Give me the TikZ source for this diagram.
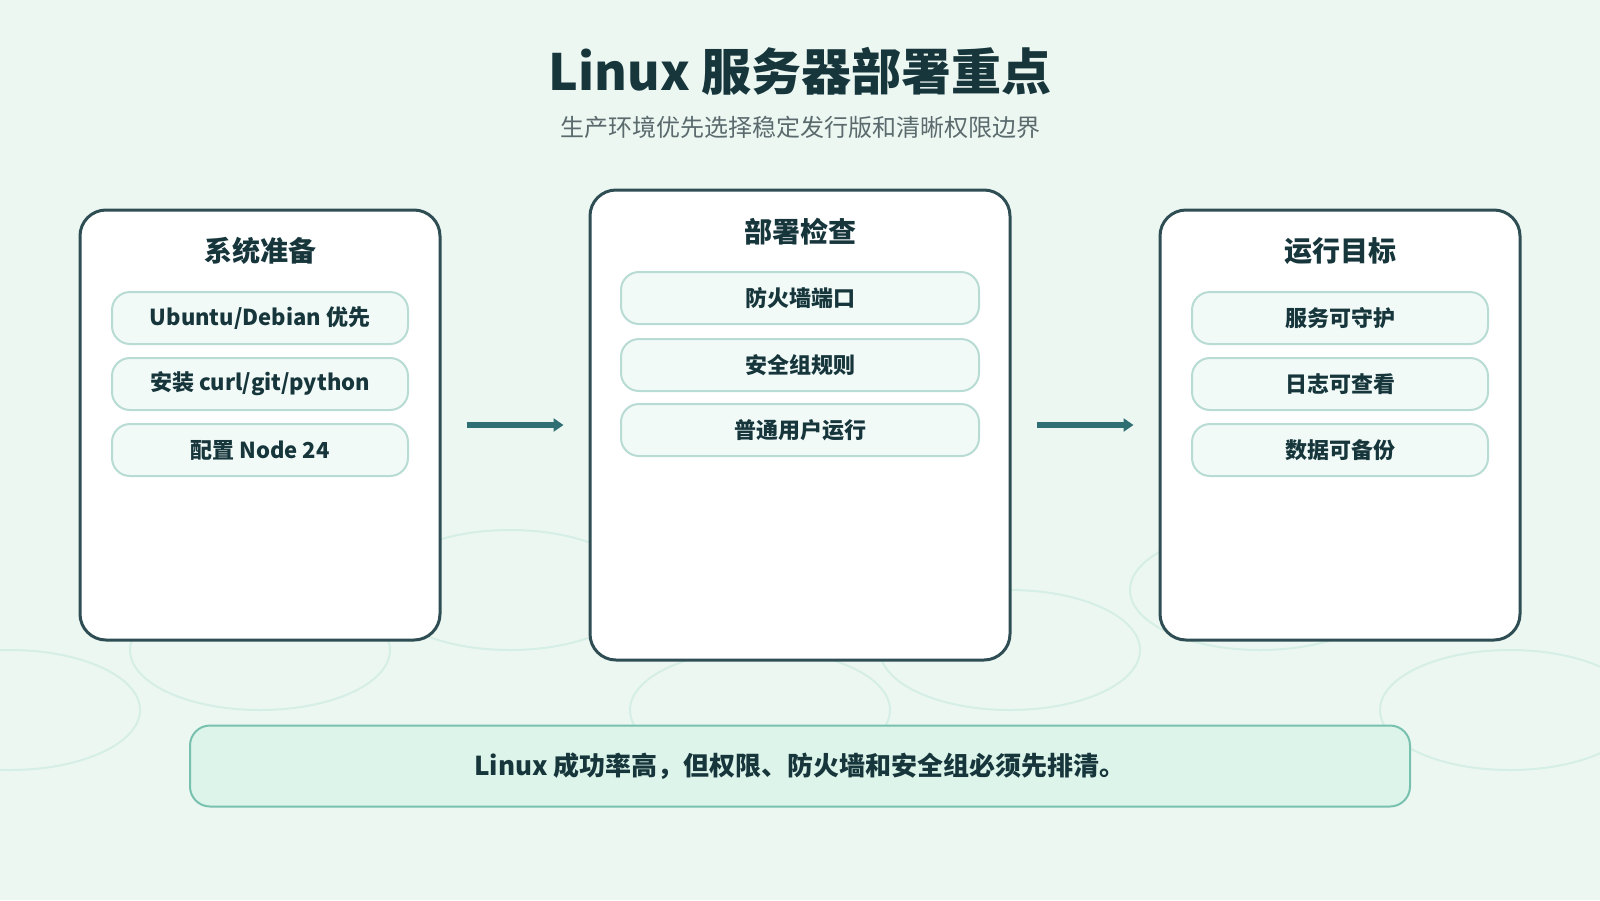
\documentclass[tikz,border=0pt]{standalone}
\usepackage{fontspec}
\setmainfont{Noto Sans CJK SC}
\usepackage{xcolor}
\usepackage{tikz}
\usetikzlibrary{positioning, arrows.meta}
\definecolor{fondo}{HTML}{EDF7F2}
\definecolor{aro}{HTML}{D5EEE6}
\definecolor{oscuro}{HTML}{17363C}
\definecolor{grisTexto}{HTML}{5A6A6D}
\definecolor{borde}{HTML}{2E4E54}
\definecolor{pastillaFondo}{HTML}{F1FAF7}
\definecolor{pastillaBorde}{HTML}{B8DCD4}
\definecolor{flechaColor}{HTML}{2F6E72}
\definecolor{notaFondo}{HTML}{DDF4EA}
\definecolor{notaBorde}{HTML}{78C1AE}

\begin{document}
\begin{tikzpicture}[
    x=1pt, y=-1pt,
    aro/.style={draw=aro, line width=2pt},
    caja/.style={
        rectangle,
        rounded corners=26pt,
        draw=borde,
        fill=white,
        line width=3pt,
        minimum width=360pt,
        minimum height=430pt,
    },
    cajaAlta/.style={caja, minimum width=420pt, minimum height=470pt},
    encabezado/.style={font=\fontsize{28}{34}\selectfont\bfseries, color=oscuro},
    pastilla/.style={
        rectangle,
        rounded corners=18pt,
        draw=pastillaBorde,
        fill=pastillaFondo,
        line width=2pt,
        minimum width=296pt,
        minimum height=52pt,
        font=\fontsize{22}{26}\selectfont\bfseries,
        text=oscuro,
    },
    pastillaAncha/.style={pastilla, minimum width=358pt},
    flecha/.style={-{Triangle[length=10pt, width=13pt]}, line width=6pt, color=flechaColor,
        shorten <=25pt, shorten >=25pt},
    nota/.style={
        rectangle,
        rounded corners=20pt,
        draw=notaBorde,
        fill=notaFondo,
        line width=2pt,
        minimum width=1220pt,
        minimum height=81pt,
        font=\fontsize{26}{30}\selectfont\bfseries,
        text=oscuro,
    },
]

% fondo y aros
\fill[fondo] (0,0) rectangle (1600,900);
\useasboundingbox (0,0) rectangle (1600,900);
\draw[aro] (10,710) ellipse [x radius=130, y radius=60];
\draw[aro] (260,650) ellipse [x radius=130, y radius=60];
\draw[aro] (510,590) ellipse [x radius=130, y radius=60];
\draw[aro] (760,710) ellipse [x radius=130, y radius=60];
\draw[aro] (1010,650) ellipse [x radius=130, y radius=60];
\draw[aro] (1260,590) ellipse [x radius=130, y radius=60];
\draw[aro] (1510,710) ellipse [x radius=130, y radius=60];

% titulo
\node[font=\fontsize{50}{60}\selectfont\bfseries, color=oscuro] (titulo) at (800,71) {Linux 服务器部署重点};
\node[font=\fontsize{24}{28}\selectfont, color=grisTexto] (subtitulo) at (800,127) {生产环境优先选择稳定发行版和清晰权限边界};

% cajas
\node[caja]     (sistema)    at ( 260,425) {};
\node[cajaAlta] (despliegue) at ( 800,425) {};
\node[caja]     (objetivo)   at (1340,425) {};

\node[encabezado] (encSistema)    at ( 260,251) {系统准备};
\node[encabezado] (encDespliegue) at ( 800,232) {部署检查};
\node[encabezado] (encObjetivo)   at (1340,251) {运行目标};

\node[pastilla] (ubuntu)  at (260,318) {Ubuntu/Debian 优先};
\node[pastilla] (paquetes) at (260,384) {安装 curl/git/python};
\node[pastilla] (nodejs)  at (260,450) {配置 Node 24};

\node[pastillaAncha] (firewall) at (800,298) {防火墙端口};
\node[pastillaAncha] (grupo)    at (800,365) {安全组规则};
\node[pastillaAncha] (usuario)  at (800,430) {普通用户运行};

\node[pastilla] (servicio) at (1340,318) {服务可守护};
\node[pastilla] (logs)     at (1340,384) {日志可查看};
\node[pastilla] (datos)    at (1340,450) {数据可备份};

\draw[flecha] (sistema) -- (despliegue);
\draw[flecha] (despliegue) -- (objetivo);

% nota inferior
\node[nota] (nota) at (800,766) {Linux 成功率高，但权限、防火墙和安全组必须先排清。};

\end{tikzpicture}
\end{document}
